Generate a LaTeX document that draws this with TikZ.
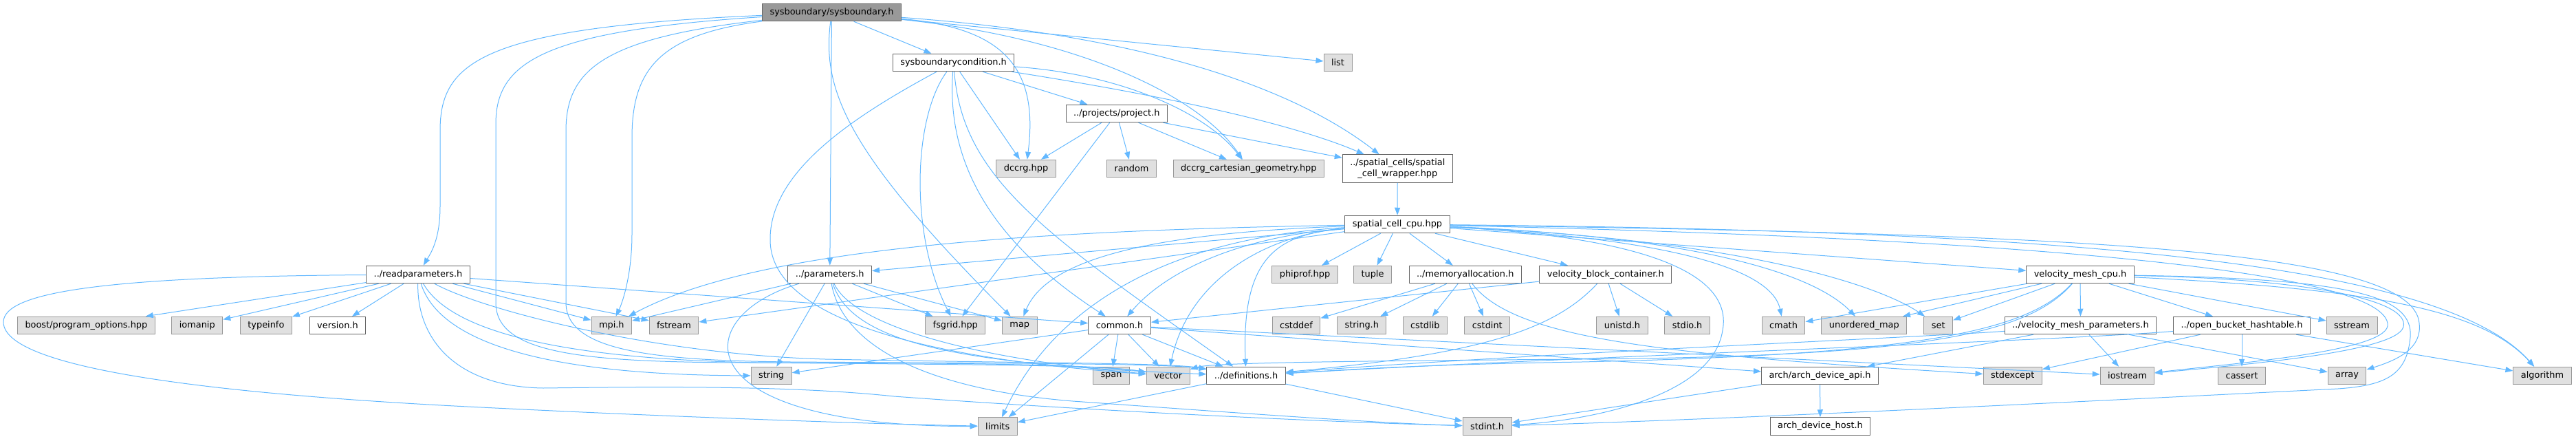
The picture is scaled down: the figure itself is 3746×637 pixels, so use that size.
\documentclass[tikz,border=0pt]{standalone}
\usepackage{fontspec}
\setmainfont{DejaVu Sans}
\usetikzlibrary{arrows.meta}

\definecolor{edgeblue}{HTML}{63B8FF}
\definecolor{sysgray}{HTML}{E0E0E0}
\definecolor{rootgray}{HTML}{999999}

\begin{document}
\begin{tikzpicture}[x=1pt,y=1pt,
  box/.style={draw=black!60,line width=1pt,fill=white,minimum height=25.5pt,
    inner xsep=11pt,inner ysep=2pt,font=\fontsize{12.9}{15.5}\selectfont},
  sysbox/.style={box,draw=black!40,fill=sysgray},
  rootbox/.style={box,fill=rootgray},
  dep/.style={draw=edgeblue,line width=1pt,-{Triangle[length=11pt,width=8pt]}}]
  \useasboundingbox (0,0) rectangle (3746,-637);

  % files
  \node(sb)[rootbox] at (1209.5,-18) {sysboundary/sysboundary.h};
  \node(sbc)[box] at (1386.6,-91) {sysboundarycondition.h};
  \node(list)[sysbox] at (1945.5,-91) {list};
  \node(project)[box] at (1623.8,-165) {../projects/project.h};
  \node(dccrg)[sysbox] at (1492,-245) {dccrg.hpp};
  \node(random)[sysbox] at (1645.5,-245) {random};
  \node(dccrgcart)[sysbox] at (1815.8,-245) {dccrg\_cartesian\_geometry.hpp};
  \node(wrapper)[box,align=center,minimum height=40.5pt] at (2032.3,-245) {../spatial\_cells/spatial\\\_cell\_wrapper.hpp};
  \node(cellcpu)[box] at (2032,-326) {spatial\_cell\_cpu.hpp};

  \node(readpar)[box] at (608,-399) {../readparameters.h};
  \node(params)[box] at (1206.7,-399) {../parameters.h};
  \node(phiprof)[sysbox] at (1897.5,-399) {phiprof.hpp};
  \node(tuple)[sysbox] at (1996,-399) {tuple};
  \node(memalloc)[box] at (2130.7,-399) {../memoryallocation.h};
  \node(blockcont)[box] at (2334.8,-399) {velocity\_block\_container.h};
  \node(meshcpu)[box] at (3025,-399) {velocity\_mesh\_cpu.h};

  \node(boostpo)[sysbox] at (125.4,-473) {boost/program\_options.hpp};
  \node(iomanip)[sysbox] at (286.8,-473) {iomanip};
  \node(typeinfo)[sysbox] at (386.9,-473) {typeinfo};
  \node(version)[box] at (491,-473) {version.h};
  \node(mpi)[sysbox] at (889.3,-473) {mpi.h};
  \node(fstream)[sysbox] at (980,-473) {fstream};
  \node(fsgrid)[sysbox] at (1389.3,-473) {fsgrid.hpp};
  \node(map)[sysbox] at (1482.8,-473) {map};
  \node(common)[box] at (1628,-473) {common.h};
  \node(cstddef)[sysbox] at (1885,-473) {cstddef};
  \node(stringh)[sysbox] at (1980.3,-473) {string.h};
  \node(cstdlib)[sysbox] at (2072.3,-473) {cstdlib};
  \node(cstdint)[sysbox] at (2162.8,-473) {cstdint};
  \node(unistd)[sysbox] at (2359,-473) {unistd.h};
  \node(stdio)[sysbox] at (2453.5,-473) {stdio.h};
  \node(cmath)[sysbox] at (2593.5,-473) {cmath};
  \node(umap)[sysbox] at (2710.8,-473) {unordered\_map};
  \node(set)[sysbox] at (2818.8,-473) {set};
  \node(meshpar)[box] at (3025.5,-473) {../velocity\_mesh\_parameters.h};
  \node(hashtable)[box] at (3260,-473) {../open\_bucket\_hashtable.h};
  \node(sstream)[sysbox] at (3420,-473) {sstream};

  \node(string)[sysbox] at (1121.6,-546) {string};
  \node(span)[sysbox] at (1616,-546) {span};
  \node(vector)[sysbox] at (1698.7,-546) {vector};
  \node(defs)[box] at (1812,-546) {../definitions.h};
  \node(devapi)[box] at (2646.5,-546) {arch/arch\_device\_api.h};
  \node(stdexcept)[sysbox] at (2926.7,-546) {stdexcept};
  \node(iostream)[sysbox] at (3093.5,-546) {iostream};
  \node(cassert)[sysbox] at (3260,-546) {cassert};
  \node(array)[sysbox] at (3413,-546) {array};
  \node(algorithm)[sysbox] at (3697,-546) {algorithm};

  \node(limits)[sysbox] at (1450.7,-619.5) {limits};
  \node(stdint)[sysbox] at (2162.6,-619.5) {stdint.h};
  \node(devhost)[box] at (2647,-619.5) {arch\_device\_host.h};

  % sysboundary.h
  \draw[dep] (sb) .. controls (700,-40) and (640,-90) .. (640,-190) -- (640,-300) .. controls (640,-350) and (625,-370) .. (readpar);
  \draw[dep] (sb) .. controls (790,-45) and (721,-90) .. (721,-180) -- (721,-440) .. controls (721,-515) and (850,-527) .. (1100,-527) .. controls (1400,-527) and (1600,-530) .. (vector);
  \draw[dep] (sb) .. controls (880,-55) and (823,-100) .. (823,-190) -- (823,-440) .. controls (823,-510) and (950,-524) .. (1150,-526) .. controls (1450,-528) and (1700,-528) .. (defs);
  \draw[dep] (sb) .. controls (960,-50) and (919,-100) .. (919,-200) -- (919,-340) .. controls (919,-400) and (905,-440) .. (mpi);
  \draw[dep] (sb) -- (params);
  \draw[dep] (sb) .. controls (1195,-130) and (1230,-220) .. (map);
  \draw[dep] (sb) -- (sbc);
  \draw[dep] (sb) .. controls (1450,-40) and (1512,-90) .. (dccrg);
  \draw[dep] (sb) .. controls (1570,-55) and (1745,-140) .. (dccrgcart);
  \draw[dep] (sb) .. controls (1720,-55) and (1910,-150) .. (wrapper);
  \draw[dep] (sb) -- (list);

  % sysboundarycondition.h
  \draw[dep] (sbc) .. controls (1240,-170) and (1118,-250) .. (1120,-350) .. controls (1122,-460) and (1330,-520) .. (vector);
  \draw[dep] (sbc) .. controls (1328,-170) and (1322,-340) .. (fsgrid);
  \draw[dep] (sbc) .. controls (1374,-260) and (1470,-370) .. (common);
  \draw[dep] (sbc) .. controls (1400,-260) and (1520,-340) .. (defs);
  \draw[dep] (sbc) -- (dccrg);
  \draw[dep] (sbc) -- (project);
  \draw[dep] (sbc) .. controls (1640,-108) and (1760,-170) .. (dccrgcart);
  \draw[dep] (sbc) .. controls (1700,-140) and (1880,-180) .. (wrapper);

  % project.h
  \draw[dep] (project) -- (dccrg);
  \draw[dep] (project) -- (fsgrid);
  \draw[dep] (project) -- (random);
  \draw[dep] (project) -- (dccrgcart);
  \draw[dep] (project) -- (wrapper);
  \draw[dep] (wrapper) -- (cellcpu);

  % readparameters.h
  \draw[dep] (readpar) -- (boostpo);
  \draw[dep] (readpar) -- (iomanip);
  \draw[dep] (readpar) -- (typeinfo);
  \draw[dep] (readpar) -- (version);
  \draw[dep] (readpar) -- (mpi);
  \draw[dep] (readpar) -- (fstream);
  \draw[dep] (readpar) -- (common);
  \draw[dep] (readpar) .. controls (150,-402) and (5,-425) .. (5,-468) .. controls (5,-540) and (350,-575) .. (700,-592) .. controls (1000,-607) and (1300,-617) .. (limits);
  \draw[dep] (readpar) .. controls (606,-490) and (660,-562) .. (790,-564) .. controls (950,-562) and (1150,-560) .. (1300,-576) .. controls (1600,-598) and (1950,-614) .. (stdint);
  \draw[dep] (readpar) .. controls (640,-500) and (800,-545) .. (string);
  \draw[dep] (readpar) .. controls (660,-490) and (850,-522) .. (1100,-527) .. controls (1400,-530) and (1600,-530) .. (vector);
  \draw[dep] (readpar) .. controls (700,-450) and (950,-515) .. (1200,-522) .. controls (1500,-528) and (1700,-527) .. (defs);

  % parameters.h
  \draw[dep] (params) -- (mpi);
  \draw[dep] (params) .. controls (1000,-460) and (990,-620) .. (limits);
  \draw[dep] (params) -- (string);
  \draw[dep] (params) .. controls (1225,-500) and (1340,-565) .. (1560,-583) .. controls (1800,-600) and (2000,-615) .. (stdint);
  \draw[dep] (params) .. controls (1240,-470) and (1400,-520) .. (vector);
  \draw[dep] (params) .. controls (1240,-500) and (1400,-530) .. (defs);
  \draw[dep] (params) -- (fsgrid);
  \draw[dep] (params) -- (map);

  % common.h
  \draw[dep] (common) -- (string);
  \draw[dep] (common) -- (limits);
  \draw[dep] (common) -- (span);
  \draw[dep] (common) -- (vector);
  \draw[dep] (common) -- (defs);
  \draw[dep] (common) -- (devapi);
  \draw[dep] (common) -- (iostream);

  % definitions.h
  \draw[dep] (defs) -- (limits);
  \draw[dep] (defs) -- (stdint);

  % spatial_cell_cpu.hpp
  \draw[dep] (cellcpu) -- (params);
  \draw[dep] (cellcpu) .. controls (1500,-335) and (1100,-360) .. (mpi);
  \draw[dep] (cellcpu) -- (fstream);
  \draw[dep] (cellcpu) .. controls (1700,-338) and (1525,-370) .. (map);
  \draw[dep] (cellcpu) .. controls (1790,-345) and (1690,-400) .. (common);
  \draw[dep] (cellcpu) .. controls (1720,-345) and (1540,-430) .. (limits);
  \draw[dep] (cellcpu) .. controls (1850,-340) and (1730,-400) .. (vector);
  \draw[dep] (cellcpu) .. controls (1860,-340) and (1805,-370) .. (defs);
  \draw[dep] (cellcpu) -- (phiprof);
  \draw[dep] (cellcpu) -- (tuple);
  \draw[dep] (cellcpu) -- (memalloc);
  \draw[dep] (cellcpu) -- (blockcont);
  \draw[dep] (cellcpu) -- (meshcpu);
  \draw[dep] (cellcpu) .. controls (2400,-345) and (2575,-385) .. (cmath);
  \draw[dep] (cellcpu) .. controls (2480,-345) and (2640,-400) .. (umap);
  \draw[dep] (cellcpu) .. controls (2560,-350) and (2740,-420) .. (set);
  \draw[dep] (cellcpu) .. controls (2400,-345) and (2520,-400) .. (2505,-480) .. controls (2490,-580) and (2300,-612) .. (stdint);
  \draw[dep] (cellcpu) .. controls (2900,-345) and (3460,-390) .. (3472,-470) .. controls (3480,-510) and (3250,-528) .. (iostream);
  \draw[dep] (cellcpu) .. controls (3000,-340) and (3510,-360) .. (3518,-470) .. controls (3522,-505) and (3490,-522) .. (array);
  \draw[dep] (cellcpu) .. controls (3000,-335) and (3550,-380) .. (algorithm);

  % memoryallocation.h
  \draw[dep] (memalloc) -- (cstddef);
  \draw[dep] (memalloc) -- (stringh);
  \draw[dep] (memalloc) -- (cstdlib);
  \draw[dep] (memalloc) -- (cstdint);
  \draw[dep] (memalloc) .. controls (2200,-490) and (2400,-515) .. (stdexcept);

  % velocity_block_container.h
  \draw[dep] (blockcont) -- (common);
  \draw[dep] (blockcont) .. controls (2260,-480) and (2150,-515) .. (defs);
  \draw[dep] (blockcont) -- (unistd);
  \draw[dep] (blockcont) -- (stdio);

  % velocity_mesh_cpu.h
  \draw[dep] (meshcpu) -- (cmath);
  \draw[dep] (meshcpu) -- (umap);
  \draw[dep] (meshcpu) -- (set);
  \draw[dep] (meshcpu) -- (meshpar);
  \draw[dep] (meshcpu) -- (hashtable);
  \draw[dep] (meshcpu) -- (sstream);
  \draw[dep] (meshcpu) .. controls (2950,-480) and (2800,-515) .. (2300,-526) .. controls (2050,-530) and (1950,-538) .. (defs);
  \draw[dep] (meshcpu) .. controls (2950,-485) and (2800,-518) .. (2300,-522) .. controls (1900,-525) and (1760,-528) .. (vector);
  \draw[dep] (meshcpu) .. controls (3350,-405) and (3505,-435) .. (3495,-475) .. controls (3485,-512) and (3260,-530) .. (iostream);
  \draw[dep] (meshcpu) .. controls (3450,-420) and (3610,-450) .. (algorithm);
  \draw[dep] (meshcpu) .. controls (3420,-405) and (3510,-430) .. (3505,-490) .. controls (3500,-545) and (3470,-560) .. (3400,-565) .. controls (3000,-585) and (2500,-610) .. (stdint);

  % velocity_mesh_parameters.h
  \draw[dep] (meshpar) .. controls (2800,-490) and (2200,-515) .. (defs);
  \draw[dep] (meshpar) -- (devapi);
  \draw[dep] (meshpar) -- (iostream);
  \draw[dep] (meshpar) -- (array);

  % open_bucket_hashtable.h
  \draw[dep] (hashtable) .. controls (3000,-495) and (2300,-518) .. (defs);
  \draw[dep] (hashtable) -- (stdexcept);
  \draw[dep] (hashtable) -- (cassert);
  \draw[dep] (hashtable) -- (algorithm);

  % arch
  \draw[dep] (devapi) -- (devhost);
  \draw[dep] (devapi) -- (stdint);
\end{tikzpicture}
\end{document}
